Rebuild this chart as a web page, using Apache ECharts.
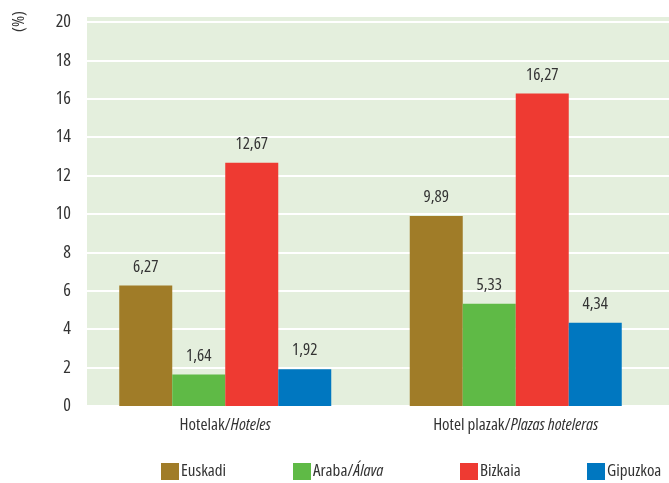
<!DOCTYPE html>
<html lang="en">
<head>
	<meta charset="UTF-8">
	<title>Hotelak</title>
	<style>
		html, body { margin: 0; padding: 0; background: #fff; }
	</style>
</head>
<body>
	<div id='main' style="width:669px;height:483px;"></div>
</body>
<script type="text/javascript" src="https://cdn.jsdelivr.net/npm/echarts@6/dist/echarts.min.js"></script>
<script type="text/javascript">
var categories = ['Hotelak/Hoteles', 'Hotel plazak/Plazas hoteleras'];
var seriesNames = ['Euskadi', 'Araba/Álava', 'Bizkaia', 'Gipuzkoa'];
var euskadi = [6.27, 9.89];
var araba = [1.64, 5.33];
var bizkaia = [12.67, 16.27];
var gipuzkoa = [1.92, 4.34];
var yTicks = [0, 2, 4, 6, 8, 10, 12, 14, 16, 18, 20];

var colors = ['#a07c28', '#5fba46', '#ee3a32', '#0077c0'];
var font = "'Open Sans', sans-serif";
var stretch = 'condensed'; // se cuela en el shorthand del font del canvas
var fsize = 17;
var textColor = '#333333';

// nombre con parte en cursiva (euskera / castellano)
function catLabel(value) {
    var parts = value.split('/');
    return parts[0] + '/{it|' + parts[1] + '}';
}
function legendLabel(name) {
    var parts = name.split('/');
    if (parts.length < 2) return name;
    return parts[0] + '/{it|' + parts[1] + '}';
}
function fmt(p) {
    return String(p.value.toFixed(2)).replace('.', ',');
}
var richIt = { it: { fontStyle: 'italic', fontWeight: stretch, fontFamily: font, fontSize: fsize, color: textColor } };

var allData = [euskadi, araba, bizkaia, gipuzkoa];
var series = [];
for (var i = 0; i < seriesNames.length; i++) {
    series.push({
        name: seriesNames[i],
        type: 'bar',
        xAxisIndex: 1,
        yAxisIndex: 1,
        barWidth: 53,
        barGap: '0%',
        itemStyle: { color: colors[i] },
        label: {
            show: true,
            position: 'top',
            distance: 10,
            formatter: fmt,
            color: textColor,
            fontFamily: font,
            fontWeight: stretch,
            fontSize: fsize
        },
        data: allData[i]
    });
}

var legendLefts = [161, 293, 460, 587];
var legends = [];
for (var j = 0; j < seriesNames.length; j++) {
    legends.push({
        data: [seriesNames[j]],
        left: legendLefts[j],
        top: 463,
        padding: 0,
        itemWidth: 18,
        itemHeight: 17,
        icon: 'rect',
        selectedMode: false,
        formatter: legendLabel,
        textStyle: {
            color: textColor,
            fontFamily: font,
            fontWeight: stretch,
            fontSize: fsize,
            padding: [0, 0, 0, -3],
            rich: richIt
        }
    });
}

var option = {
    animation: false,
    backgroundColor: '#ffffff',
    color: colors,
    graphic: [
        {
            type: 'rect',
            z: -10,
            shape: { x: 87, y: 17, width: 582, height: 390 },
            style: { fill: '#e4efdd' }
        },
        {
            type: 'text',
            x: 11,
            y: 32,
            rotation: Math.PI / 2,
            style: {
                text: '(%)',
                fill: textColor,
                font: stretch + ' ' + fsize + 'px ' + font,
                verticalAlign: 'top'
            }
        }
    ],
    legend: legends,
    grid: [
        { left: 87, right: 0, top: 22, bottom: 77 },
        { left: 80, right: 8, top: 22, bottom: 77 }
    ],
    xAxis: [
        {
            gridIndex: 0,
            type: 'category',
            data: categories,
            show: false
        },
        {
            gridIndex: 1,
            type: 'category',
            data: categories,
            axisLine: { show: false },
            axisTick: { show: false },
            axisLabel: {
                interval: 0,
                margin: 11,
                formatter: catLabel,
                color: textColor,
                fontFamily: font,
                fontWeight: stretch,
                fontSize: fsize,
                rich: richIt
            }
        }
    ],
    yAxis: [
        {
            gridIndex: 0,
            type: 'value',
            min: yTicks[0],
            max: yTicks[yTicks.length - 1],
            interval: 2,
            axisLine: { show: false },
            axisTick: { show: false },
            axisLabel: {
                margin: 16,
                color: textColor,
                fontFamily: font,
                fontWeight: stretch,
                fontSize: 18
            },
            splitLine: { lineStyle: { color: '#ffffff', width: 2 } }
        },
        {
            gridIndex: 1,
            type: 'value',
            min: yTicks[0],
            max: yTicks[yTicks.length - 1],
            interval: 2,
            show: false,
            splitLine: { show: false }
        }
    ],
    series: series
};

var myChart = echarts.init(document.getElementById('main'));
myChart.setOption(option);
</script>
</html>
